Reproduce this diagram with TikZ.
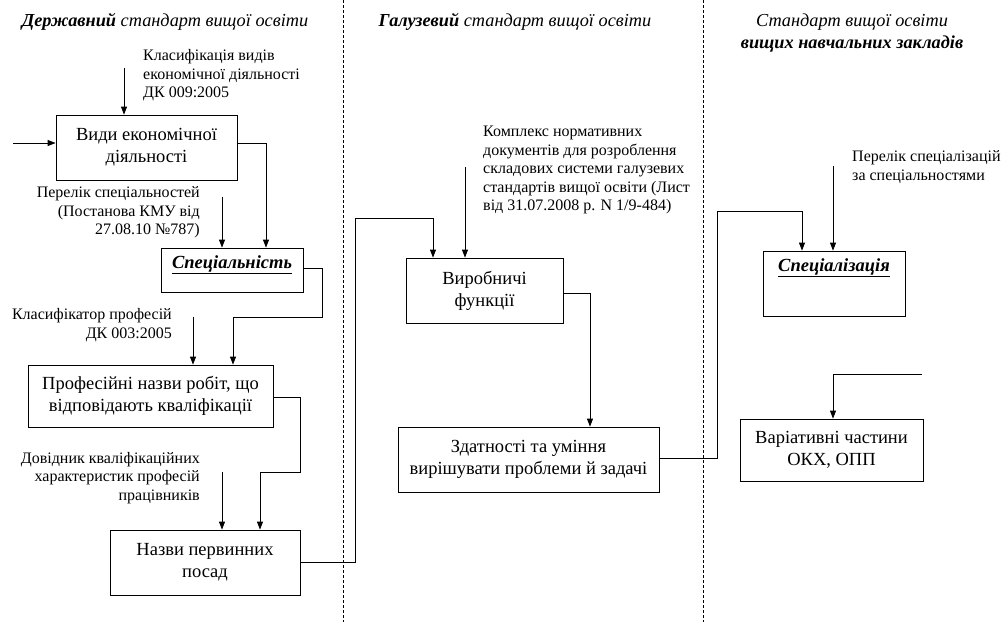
\documentclass[tikz,border=0pt]{standalone}
\usepackage{fontspec}
\setmainfont{Liberation Serif}
\usetikzlibrary{arrows.meta}
\begin{document}
\begin{tikzpicture}[x=1pt,y=-1pt,
  box/.style={draw,line width=0.8pt,inner sep=0pt,align=center,font=\fontsize{18.5}{22}\selectfont},
  boxtext/.style={inner sep=0pt,align=center,font=\fontsize{18.5}{22}\selectfont},
  lbl/.style={inner sep=0pt,font=\fontsize{16}{18.5}\selectfont},
  hdr/.style={inner sep=0pt,font=\fontsize{18.3}{22}\selectfont\itshape,align=center},
  conn/.style={line width=0.8pt},
  arr/.style={conn,-{Triangle[length=8pt,width=6pt]}},
  sepline/.style={dash pattern=on 3pt off 2pt,line width=0.7pt}]
\useasboundingbox (0,0) rectangle (1004,625);

% separators
\coordinate (s1t) at (343,0);   \coordinate (s1b) at (343,622);
\coordinate (s2t) at (703,0);   \coordinate (s2b) at (703,622);
\draw[sepline] (s1t) -- (s1b);
\draw[sepline] (s2t) -- (s2b);

% headers
\node[hdr] (h1) at (165,22) {\textbf{Державний} стандарт вищої освіти};
\node[hdr] (h2) at (515,22) {\textbf{Галузевий} стандарт вищої освіти};
\node[hdr] (h3) at (852,33) {Стандарт вищої освіти\\\textbf{вищих навчальних закладів}};

% boxes
\node[box,minimum width=181pt,minimum height=65pt] (b1) at (146.5,147.5) {Види економічної\\діяльності};
\node[box,minimum width=142pt,minimum height=44pt] (b2) at (232,270) {};
\node[boxtext] (b2t) at (232,265) {\underline{\textbf{\textit{Спеціальність}}}};
\node[box,minimum width=245pt,minimum height=62pt] (b3) at (150.5,396) {Професійні назви робіт, що\\відповідають кваліфікації};
\node[box,minimum width=190pt,minimum height=65pt] (b4) at (205,562.5) {Назви первинних\\посад};
\node[box,minimum width=157pt,minimum height=65pt] (b5) at (484.5,290.5) {Виробничі\\функції};
\node[box,minimum width=261pt,minimum height=65pt] (b6) at (528.5,459.5) {Здатності та уміння\\вирішувати проблеми й задачі};
\node[box,minimum width=142pt,minimum height=65pt] (b7) at (834,283.5) {};
\node[boxtext] (b7t) at (834,268) {\underline{\textbf{\textit{Спеціалізація}}}};
\node[box,minimum width=183pt,minimum height=62pt] (b8) at (831.5,450) {Варіативні частини\\ОКХ, ОПП};

% labels
\node[lbl,align=left,anchor=west] (l1) at (143,75.5) {Класифікація видів\\економічної діяльності\\ДК 009:2005};
\node[lbl,align=right,anchor=east] (l2) at (200,212.5) {Перелік спеціальностей\\(Постанова КМУ від\\27.08.10 №787)};
\node[lbl,align=right,anchor=east] (l3) at (172,325) {Класифікатор професій\\ДК 003:2005};
\node[lbl,align=right,anchor=east] (l4) at (200,478) {Довідник кваліфікаційних\\характеристик професій\\працівників};
\node[lbl,align=left,anchor=west] (l5) at (483,170) {Комплекс нормативних\\документів для розроблення\\складових системи галузевих\\стандартів вищої освіти (Лист\\від 31.07.2008 р. N 1/9-484)};
\node[lbl,align=left,anchor=west] (l7) at (852,167) {Перелік спеціалізацій\\за спеціальностями};

% free ends
\coordinate (c0) at (13,143);
\coordinate (c1) at (124,68);
\coordinate (c2) at (222,197);
\coordinate (c3) at (193,317);
\coordinate (c4) at (222,472);
\coordinate (c5) at (465,167);
\coordinate (c7) at (833,166);
\coordinate (c8) at (922,374);

% input arrows
\draw[arr] (c0) -- ([yshift=4.5pt]b1.west);
\draw[arr] (c1) -- (c1 |- b1.north);
\draw[arr] (c2) -- (c2 |- b2.north);
\draw[arr] (c3) -- (c3 |- b3.north);
\draw[arr] (c4) -- (c4 |- b4.north);
\draw[arr] (c5) -- (c5 |- b5.north);
\draw[arr] (c7) -- (c7 |- b7.north);
\draw[arr] (c8) -| (c7 |- b8.north);

% flow connectors
\draw[arr] ([yshift=4.5pt]b1.east) -| ([xshift=34pt]b2.north);
\draw[arr] ([yshift=2pt]b2.east) -| (322,317) -| ([xshift=82.5pt]b3.north);
\draw[arr] ([yshift=-1pt]b3.east) -| (300,472) -| ([xshift=55pt]b4.north);
\draw[arr] (b4.east) -| (355,218) -| ([xshift=-51.5pt]b5.north);
\draw[arr] ([yshift=-2.5pt]b5.east) -| ([xshift=61.5pt]b6.north);
\draw[arr] ([yshift=1.5pt]b6.east) -| (717,211) -| ([xshift=-32pt]b7.north);
\end{tikzpicture}
\end{document}
